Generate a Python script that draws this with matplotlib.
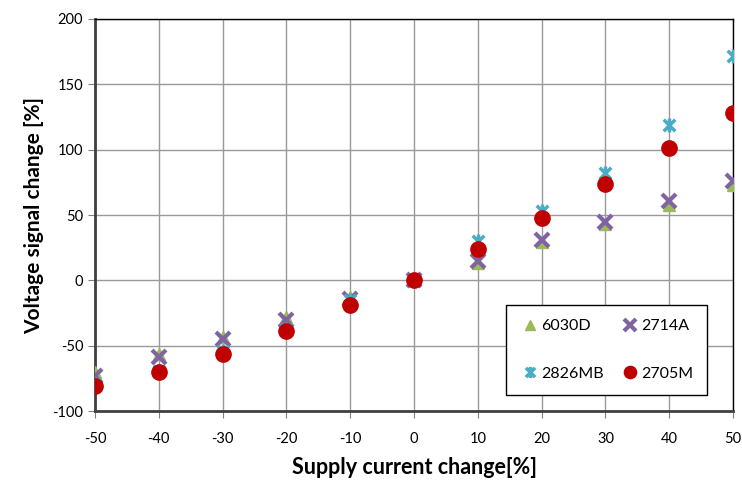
import matplotlib
matplotlib.use('Agg')
import matplotlib.pyplot as plt
from matplotlib.path import Path

# supply current change [%]
current = [-50, -40, -30, -20, -10, 0, 10, 20, 30, 40, 50]

# voltage signal change [%] per sensor
s6030D = [-70, -56, -43, -28, -13, 0, 13, 29, 43, 58, 73]
s2714A = [-73, -59, -45, -30, -14, 0, 15, 31, 45, 61, 76]
s2826MB = [-79, -69, -54, -37, -15, 0, 30, 53, 82, 119, 172]
s2705M = [-81, -70, -56, -39, -19, 0, 24, 48, 74, 101, 128]

plt.rcParams['font.family'] = ['Lato', 'DejaVu Sans']
plt.rcParams['axes.unicode_minus'] = False

# excel style "star" marker: an x with a vertical bar
star = Path([(-1, -1), (1, 1), (-1, 1), (1, -1), (0, -1.2), (0, 1.2)],
            [Path.MOVETO, Path.LINETO, Path.MOVETO, Path.LINETO, Path.MOVETO, Path.LINETO])

fig = plt.figure(figsize=(7.42, 4.87), dpi=100)
ax = fig.add_axes([0.128, 0.156, 0.86, 0.805])

h1, = ax.plot(current, s6030D, linestyle='none', marker='^', markersize=9,
              color='#9BBB59', label='6030D', zorder=3)
h2, = ax.plot(current, s2714A, linestyle='none', marker='x', markersize=10, mew=3,
              color='#8064A2', label='2714A', zorder=4)
h3, = ax.plot(current, s2826MB, linestyle='none', marker=star, markersize=10, mew=2.5,
              color='#4BACC6', label='2826MB', zorder=5)
h4, = ax.plot(current, s2705M, linestyle='none', marker='o', markersize=11,
              color='#C00000', label='2705M', zorder=6)

ax.set_xlim(-50, 50)
ax.set_ylim(-100, 200)
ax.set_xticks(range(-50, 51, 10))
ax.set_yticks(range(-100, 201, 50))
ax.grid(True, color='#999999', linewidth=1)
ax.set_axisbelow(True)

for side in ['left', 'bottom']:
    ax.spines[side].set_linewidth(2)
    ax.spines[side].set_color('#404040')
for side in ['top', 'right']:
    ax.spines[side].set_linewidth(1)
    ax.spines[side].set_color('black')

ax.tick_params(axis='both', labelsize=10.5, length=5, color='#808080', direction='out')
ax.tick_params(axis='x', pad=10)

ax.set_xlabel('Supply current change[%]', fontsize=15.5, fontweight='bold', labelpad=8)
ax.set_ylabel('Voltage signal change [%]', fontsize=15, fontweight='bold', labelpad=6)

# legend filled column-wise, so order handles to get 6030D/2714A on the first row
leg = ax.legend([h1, h3, h2, h4], ['6030D', '2826MB', '2714A', '2705M'],
                ncol=2, loc='lower right', bbox_to_anchor=(0.972, 0.02),
                fontsize=11.5, frameon=True, fancybox=False, framealpha=1,
                edgecolor='black', handletextpad=0.1, handlelength=1.2,
                columnspacing=1.0, labelspacing=2.1, borderpad=0.9,
                markerscale=0.8)
leg.get_frame().set_linewidth(1)

fig.savefig('out.png', dpi=100)
